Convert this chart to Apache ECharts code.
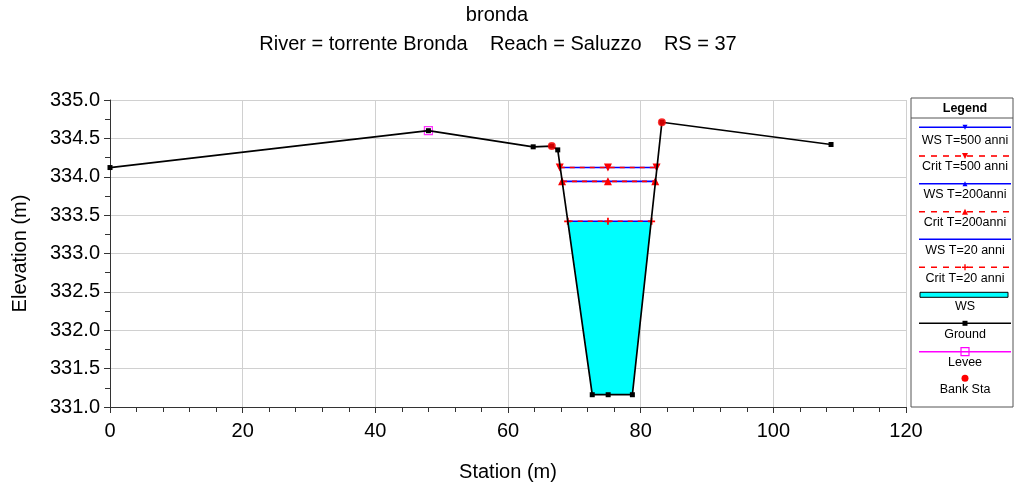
<!DOCTYPE html>
<html>
<head>
<meta charset="utf-8">
<script src="https://cdn.jsdelivr.net/npm/echarts@6/dist/echarts.min.js"></script>
<style>
  html, body { margin: 0; padding: 0; background: #fff; }
  #chart { width: 1015px; height: 487px; }
</style>
</head>
<body>
<div id="chart"></div>
<script>
// Cross section geometry (station m, elevation m)
const groundStation = [0, 48.0, 63.8, 66.6, 67.5, 72.7, 75.1, 78.75, 83.2, 108.7];
const groundElev    = [334.12, 334.60, 334.39, 334.40, 334.35, 331.16, 331.16, 331.16, 334.71, 334.42];

const leveeStation = [48.0];
const leveeElev    = [334.60];

const bankStation = [66.6, 83.2];
const bankElev    = [334.40, 334.71];

// Water surface profiles: left edge, centre, right edge
const profileNames  = ['T=500 anni', 'T=200anni', 'T=20 anni'];
const wsElev        = [334.12, 333.94, 333.42];
const critElev      = [334.12, 333.94, 333.42];
const profileLeft   = [67.8, 68.15, 69.0];
const profileMid    = [75.07, 75.07, 75.07];
const profileRight  = [82.4, 82.2, 81.65];

// Wetted area of the smallest profile
const wsFillStation = [69.0, 72.7, 78.75, 81.65];
const wsFillElev    = [333.42, 331.16, 331.16, 333.42];

// Axis ticks
const xTicks = [0, 20, 40, 60, 80, 100, 120];
const yTicks = [331.0, 331.5, 332.0, 332.5, 333.0, 333.5, 334.0, 334.5, 335.0];

const FONT = 'Liberation Sans, Arial, sans-serif';
const BLUE = '#0000FF', RED = '#FF0000', CYAN = '#00FFFF', MAGENTA = '#FF00FF';
const PLUS = 'path://M3,0H5V3H8V5H5V8H3V5H0V3H3Z';

const zip = (a, b) => a.map((v, i) => [v, b[i]]);
const profilePts = (elev, i) => [[profileLeft[i], elev[i]], [profileMid[i], elev[i]], [profileRight[i], elev[i]]];

const wsMarkers   = [{ symbol: 'triangle', rot: 180, size: 6 }, { symbol: 'triangle', rot: 0, size: 6 }, { symbol: 'none', rot: 0, size: 0 }];
const critMarkers = [{ symbol: 'triangle', rot: 180, size: 8 }, { symbol: 'triangle', rot: 0, size: 8 }, { symbol: PLUS, rot: 0, size: 7 }];

const series = [];

// filled water area
const fillPoly = zip(wsFillStation, wsFillElev);
series.push({
  type: 'custom',
  z: 1,
  silent: true,
  data: [fillPoly[0]],
  renderItem: (params, api) => ({
    type: 'polygon',
    shape: { points: fillPoly.map(p => api.coord(p)) },
    style: { fill: CYAN, stroke: 'none' }
  })
});

profileNames.forEach((name, i) => {
  series.push({
    name: 'WS ' + name, type: 'line', z: 3,
    data: profilePts(wsElev, i),
    lineStyle: { color: BLUE, width: 1.6 },
    itemStyle: { color: BLUE },
    symbol: wsMarkers[i].symbol, symbolRotate: wsMarkers[i].rot, symbolSize: wsMarkers[i].size,
    showAllSymbol: true, animation: false
  });
});
profileNames.forEach((name, i) => {
  series.push({
    name: 'Crit ' + name, type: 'line', z: 4,
    data: profilePts(critElev, i),
    lineStyle: { color: RED, width: 1.6, type: [5, 5] },
    itemStyle: { color: RED },
    symbol: critMarkers[i].symbol, symbolRotate: critMarkers[i].rot, symbolSize: critMarkers[i].size,
    showAllSymbol: true, animation: false
  });
});

series.push({
  name: 'Levee', type: 'scatter', z: 5,
  data: zip(leveeStation, leveeElev),
  symbol: 'rect', symbolSize: 8,
  itemStyle: { color: 'transparent', borderColor: MAGENTA, borderWidth: 1.2 },
  animation: false
});
series.push({
  name: 'Ground', type: 'line', z: 6,
  data: zip(groundStation, groundElev),
  lineStyle: { color: '#000', width: 1.7 },
  itemStyle: { color: '#000' },
  symbol: 'rect', symbolSize: 5, showAllSymbol: true, animation: false
});
series.push({
  name: 'Bank Sta', type: 'scatter', z: 7,
  data: zip(bankStation, bankElev),
  symbol: 'circle', symbolSize: 8,
  itemStyle: { color: RED },
  animation: false
});

// Legend panel
const LX = 911, LW = 102, LY = 98, LH = 309;
const lx0 = 919, lx1 = 1011, lmid = 965;
const legendGraphics = [
  { type: 'rect', shape: { x: LX, y: LY, width: LW, height: LH }, style: { fill: '#fff', stroke: '#555', lineWidth: 1 } },
  { type: 'line', shape: { x1: LX, y1: 118, x2: LX + LW, y2: 118 }, style: { stroke: '#555', lineWidth: 1 } },
  { type: 'text', style: { text: 'Legend', x: lmid, y: 109, textAlign: 'center', textVerticalAlign: 'middle', font: 'bold 12.5px ' + FONT, fill: '#000' } }
];
const legendText = (t, y) => ({ type: 'text', style: { text: t, x: lmid, y: y, textAlign: 'center', textVerticalAlign: 'middle', font: '12.5px ' + FONT, fill: '#000' } });
const legendLine = (y, color, dash) => ({ type: 'line', shape: { x1: lx0, y1: y, x2: lx1, y2: y }, style: { stroke: color, lineWidth: 1.6, lineDash: dash || null } });
const tri = (y, up, size, color) => {
  const h = size / 2;
  const pts = up ? [[lmid - h, y + h], [lmid + h, y + h], [lmid, y - h]] : [[lmid - h, y - h], [lmid + h, y - h], [lmid, y + h]];
  return { type: 'polygon', shape: { points: pts }, style: { fill: color } };
};
legendGraphics.push(
  legendLine(127.3, BLUE), tri(127.3, false, 5, BLUE), legendText('WS T=500 anni', 141),
  legendLine(156, RED, [6, 6]), tri(156, false, 6, RED), legendText('Crit T=500 anni', 167),
  legendLine(183.7, BLUE), tri(183.7, true, 5, BLUE), legendText('WS T=200anni', 195),
  legendLine(211.7, RED, [6, 6]), tri(211.7, true, 6, RED), legendText('Crit T=200anni', 223),
  legendLine(239.3, BLUE), legendText('WS T=20 anni', 251),
  legendLine(267.3, RED, [6, 6]),
  { type: 'rect', shape: { x: lmid - 3, y: 266.6, width: 6, height: 1.4 }, style: { fill: RED } },
  { type: 'rect', shape: { x: lmid - 0.7, y: 264.3, width: 1.4, height: 6 }, style: { fill: RED } },
  legendText('Crit T=20 anni', 278.5),
  { type: 'rect', shape: { x: 920, y: 292.3, width: 88, height: 5 }, style: { fill: CYAN, stroke: '#000', lineWidth: 1 } },
  legendText('WS', 307),
  legendLine(323.3, '#000'),
  { type: 'rect', shape: { x: lmid - 2.5, y: 320.8, width: 5, height: 5 }, style: { fill: '#000' } },
  legendText('Ground', 334.5),
  legendLine(351.7, MAGENTA),
  { type: 'rect', shape: { x: lmid - 4, y: 347.7, width: 8, height: 8 }, style: { fill: 'none', stroke: MAGENTA, lineWidth: 1.2 } },
  legendText('Levee', 363),
  { type: 'circle', shape: { cx: lmid, cy: 378.3, r: 3.5 }, style: { fill: RED } },
  legendText('Bank Sta', 390)
);

const titleGraphics = [
  { type: 'text', style: { text: 'bronda', x: 497, y: 15, textAlign: 'center', textVerticalAlign: 'middle', font: '20px ' + FONT, fill: '#000' } },
  { type: 'text', style: { text: 'River = torrente Bronda    Reach = Saluzzo    RS = 37', x: 498, y: 44, textAlign: 'center', textVerticalAlign: 'middle', font: '20px ' + FONT, fill: '#000' } }
];

const chart = echarts.init(document.getElementById('chart'), null, { renderer: 'canvas' });
chart.setOption({
  backgroundColor: '#fff',
  animation: false,
  textStyle: { fontFamily: FONT },
  grid: { left: 110, right: 109, top: 100, bottom: 80, containLabel: false },
  xAxis: {
    type: 'value', min: xTicks[0], max: xTicks[xTicks.length - 1], interval: 20,
    name: 'Station (m)', nameLocation: 'middle', nameGap: 55,
    nameTextStyle: { fontSize: 20, color: '#000', fontFamily: FONT },
    axisLine: { show: true, onZero: false, lineStyle: { color: '#333', width: 1 } },
    axisTick: { show: true, inside: false, length: 6, lineStyle: { color: '#333' } },
    minorTick: { show: true, splitNumber: 5, length: 5, lineStyle: { color: '#333' } },
    axisLabel: { fontSize: 20, color: '#000', margin: 14, fontFamily: FONT },
    splitLine: { show: true, lineStyle: { color: '#d0d0d0', width: 1 } }
  },
  yAxis: {
    type: 'value', min: yTicks[0], max: yTicks[yTicks.length - 1], interval: 0.5,
    name: 'Elevation (m)', nameLocation: 'middle', nameGap: 80, nameRotate: 90,
    nameTextStyle: { fontSize: 20, color: '#000', fontFamily: FONT },
    axisLine: { show: true, onZero: false, lineStyle: { color: '#333', width: 1 } },
    axisTick: { show: true, inside: false, length: 6, lineStyle: { color: '#333' } },
    minorTick: { show: true, splitNumber: 2, length: 5, lineStyle: { color: '#333' } },
    axisLabel: { fontSize: 20, color: '#000', margin: 10, fontFamily: FONT, formatter: v => v.toFixed(1) },
    splitLine: { show: true, lineStyle: { color: '#d0d0d0', width: 1 } }
  },
  graphic: titleGraphics.concat(legendGraphics),
  series: series
});
</script>
</body>
</html>
